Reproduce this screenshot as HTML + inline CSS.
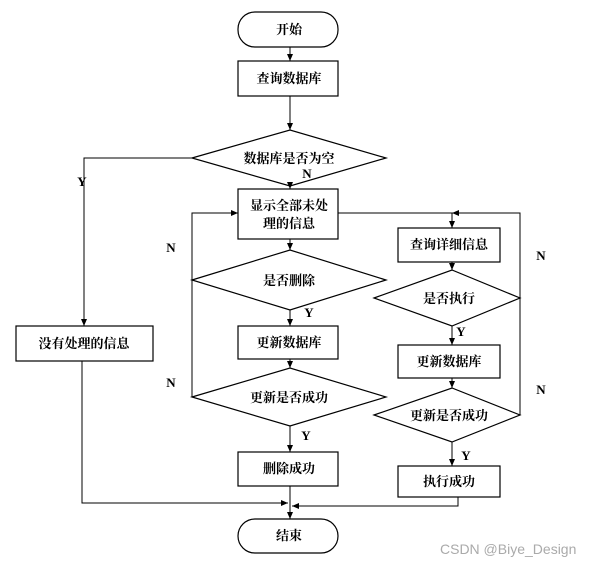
<!DOCTYPE html>
<html><head><meta charset="utf-8"><style>
body{margin:0;background:#fff}
svg text{font-family:"Liberation Serif","Noto Serif CJK SC",serif;font-weight:bold;font-size:13px;fill:#000}
</style></head><body>
<svg width="604" height="568" viewBox="0 0 604 568" xmlns="http://www.w3.org/2000/svg">
<defs><marker id="a" markerWidth="8" markerHeight="8" refX="7" refY="4" orient="auto" markerUnits="userSpaceOnUse"><path d="M0,1 L7,4 L0,7 Z" fill="#000"/></marker></defs>
<g fill="none" stroke="#000" stroke-width="1.2">
<rect x="238" y="12" width="100" height="35" rx="17" fill="#fff"/>
<rect x="238" y="61" width="100" height="35"/>
<polygon points="192,158 290,130 386,158 290,186"/>
<rect x="238" y="189" width="100" height="50"/>
<polygon points="192,280 290,250 386,280 290,310"/>
<rect x="238" y="326" width="100" height="33"/>
<polygon points="192,397 290,368 386,397 290,426"/>
<rect x="238" y="452" width="100" height="34"/>
<rect x="238" y="519" width="100" height="34" rx="17"/>
<rect x="16" y="326" width="137" height="35"/>
<rect x="398" y="228" width="102" height="34"/>
<polygon points="374,298 452,270 520,298 452,326"/>
<rect x="398" y="345" width="102" height="33"/>
<polygon points="374,415 452,388 520,415 452,442"/>
<rect x="398" y="466" width="102" height="31"/>
</g>
<g fill="none" stroke="#000" stroke-width="1" marker-end="url(#a)">
<path d="M290,47 V61"/>
<path d="M290,96 V130"/>
<path d="M290,186 V189"/>
<path d="M290,239 V250"/>
<path d="M290,310 V326"/>
<path d="M290,359 V368"/>
<path d="M290,426 V452"/>
<path d="M290,486 V519"/>
<path d="M192,158 H84 V326"/>
<path d="M192,397 V213 H238"/>
<path d="M338,213 H452 V228"/>
<path d="M520,415 H520 V213 H452"/>
<path d="M452,262 V270"/>
<path d="M452,326 V345"/>
<path d="M452,378 V388"/>
<path d="M452,442 V466"/>
<path d="M82,361 V503 H288"/>
<path d="M458,497 V506 H292"/>
</g>
<g text-anchor="middle">
<text x="289" y="34">开始</text>
<text x="289" y="83">查询数据库</text>
<text x="289" y="163">数据库是否为空</text>
<text x="289" y="210">显示全部未处</text>
<text x="289" y="228">理的信息</text>
<text x="289" y="285">是否删除</text>
<text x="289" y="347">更新数据库</text>
<text x="289" y="402">更新是否成功</text>
<text x="289" y="473">删除成功</text>
<text x="289" y="540">结束</text>
<text x="84" y="348">没有处理的信息</text>
<text x="449" y="249">查询详细信息</text>
<text x="449" y="303">是否执行</text>
<text x="449" y="366">更新数据库</text>
<text x="449" y="420">更新是否成功</text>
<text x="449" y="486">执行成功</text>
<text x="82" y="186">Y</text>
<text x="307" y="178">N</text>
<text x="171" y="252">N</text>
<text x="171" y="387">N</text>
<text x="309" y="317">Y</text>
<text x="306" y="440">Y</text>
<text x="461" y="336">Y</text>
<text x="466" y="460">Y</text>
<text x="541" y="260">N</text>
<text x="541" y="394">N</text>
</g>
<text x="440" y="554" style="font-family:'Liberation Sans',sans-serif;font-weight:normal;font-size:14px;fill:#aaa">CSDN @Biye_Design</text>
</svg>
</body></html>
